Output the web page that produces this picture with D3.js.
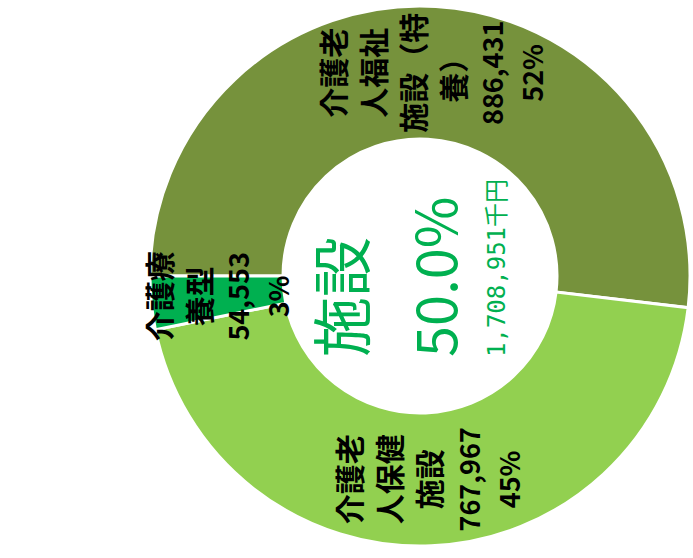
<!DOCTYPE html>
<html>
<head>
<meta charset="utf-8">
<script src="https://cdn.jsdelivr.net/npm/d3@7"></script>
<style>
  body { margin: 0; background: #fff; }
  svg { display: block; }
</style>
</head>
<body>
<div id="chart"></div>
<script>
// data (slices run clockwise from the top of the unrotated chart)
const categories = ['介護老人福祉施設（特養）', '介護老人保健施設', '介護療養型'];
const labelLines = [
  ['介護老', '人福祉', '施設（特', '養）'],
  ['介護老', '人保健', '施設'],
  ['介護療', '養型']
];
const values = [886431, 767967, 54553];
const colors = ['#76923C', '#92D050', '#00B050'];
const centerTitle = '施設';
const centerShare = '50.0%';
const centerUnit = '千円';

const W = 693, H = 558;

const svg = d3.select('#chart').append('svg')
  .attr('width', W)
  .attr('height', H);

// the whole chart is turned a quarter to the left, so build it in a 558 x 693 frame
const g = svg.append('g')
  .attr('transform', `translate(0,${H}) rotate(-90)`);

const cx = 282, cy = 420;
const outerR = 270, innerR = 137;

const pie = d3.pie().sort(null).value(d => d);
const arcs = pie(values);
const arc = d3.arc().innerRadius(innerR).outerRadius(outerR);

const donut = g.append('g').attr('transform', `translate(${cx},${cy})`);

donut.selectAll('path')
  .data(arcs)
  .enter()
  .append('path')
  .attr('d', arc)
  .style('fill', (d, i) => colors[i])
  .style('stroke', '#fff')
  .style('stroke-width', 3);

const total = d3.sum(values);
const fmt = d3.format(',');
const lineH = 40;

// slice labels, centred on each slice's centroid
donut.selectAll('text.slice-label')
  .data(arcs)
  .enter()
  .append('text')
  .attr('class', 'slice-label')
  .attr('text-anchor', 'middle')
  .style('font-family', '"Noto Sans CJK JP", "Noto Sans", sans-serif')
  .style('font-weight', 700)
  .style('fill', '#000')
  .each(function(d, i) {
    const n = labelLines[i].length;
    const lines = labelLines[i].concat([fmt(values[i]), Math.round(values[i] / total * 100) + '%']);
    const [x, y] = arc.centroid(d);
    const top = y - (lines.length - 1) * lineH / 2;
    d3.select(this).selectAll('tspan')
      .data(lines)
      .enter()
      .append('tspan')
      .attr('x', x)
      .attr('y', (l, k) => top + k * lineH)
      .attr('dominant-baseline', 'central')
      .style('font-size', (l, k) => k < n ? '30px' : '27px')
      .text(l => l);
  });

// centre text
const centerLeft = cx - 81;
const centerText = g.append('g')
  .style('fill', '#00B050');

centerText.append('text')
  .attr('x', centerLeft)
  .attr('y', cy - 82)
  .attr('dominant-baseline', 'central')
  .style('font-family', '"Noto Sans CJK JP", sans-serif')
  .style('font-size', '60px')
  .text(centerTitle);

centerText.append('text')
  .attr('x', centerLeft)
  .attr('y', cy + 12)
  .attr('dominant-baseline', 'central')
  .style('font-family', '"Noto Sans CJK JP", sans-serif')
  .style('font-size', '56px')
  .style('font-weight', 400)
  .text(centerShare);

centerText.append('text')
  .attr('x', centerLeft)
  .attr('y', cy + 77)
  .attr('dominant-baseline', 'central')
  .style('font-family', '"DejaVu Sans Mono", "Noto Sans CJK JP", monospace')
  .style('font-size', '24px')
  .text(fmt(total) + centerUnit);
</script>
</body>
</html>
